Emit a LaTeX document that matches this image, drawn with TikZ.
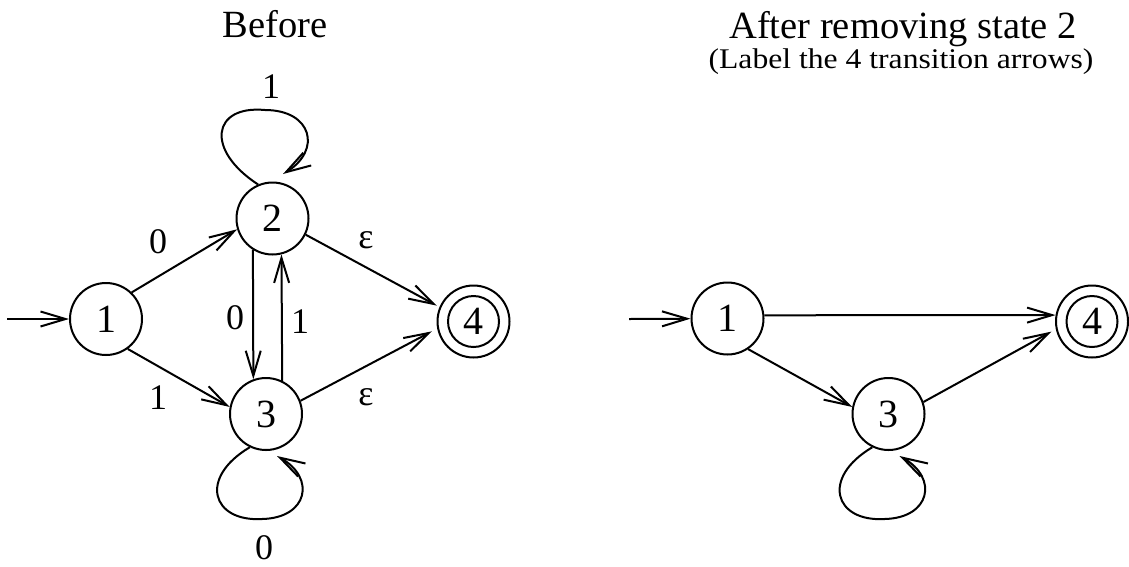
\documentclass[tikz,border=0pt]{standalone}
\usepackage{fontspec}
\usepackage{graphicx}
\setmainfont{Liberation Serif}
\usetikzlibrary{arrows.meta}
\begin{document}
\begin{tikzpicture}[x=1pt,y=-1pt,
  state/.style={circle,draw,line width=2pt,minimum size=72pt,inner sep=0pt,font=\fontsize{40}{40}\selectfont},
  edge/.style={line width=2pt,-{Straight Barb[length=25pt,width=15pt]}},
  lab/.style={font=\fontsize{36}{36}\selectfont,inner sep=0pt},
  titletext/.style={font=\fontsize{38.5}{38.5}\selectfont,anchor=base,inner sep=0pt},
  subtitletext/.style={font=\fontsize{28.5}{28.5}\selectfont,anchor=base,inner sep=0pt}]
\useasboundingbox (0,0) rectangle (1129,566);

% ---------- Before ----------
\node[titletext] (t1) at (275,37) {Before};
\node[state] (a1) at (106,319) {1};
\node[state] (a2) at (272.5,218.5) {2};
\node[state] (a3) at (266,414) {3};
\node[state] (a4) at (473.5,321.5) {4};
\draw[line width=2pt] (a4.center) circle (25.5pt);
\coordinate (a0) at (7,319);

\draw[edge] (a0) -- (a1);
\draw[edge] (a1.46) -- (a2.197);
\draw[edge] (a1.-54) -- (a3.169);
\draw[edge,shorten >=3pt] (a2.-26) -- (a4.157);
\draw[edge,shorten >=6pt] (a3.21) -- (a4.191);
\draw[edge] (a2.238) -- (a3.110.6);
\draw[edge] (a3.64.4) -- (a2.284.9);

\begin{scope}[shift={(a2.center)}]
\draw[edge] (a2.113) .. controls (-67.5,-68.5) and (-60.5,-113.5) .. (-7.5,-108.5)
  .. controls (39.5,-108.5) and (49.5,-68.5) .. (10.5,-44.5);
\end{scope}
\begin{scope}[shift={(a3.center)}]
\draw[edge] (a3.244) .. controls (-68,64) and (-54,108) .. (-4,105)
  .. controls (42,104) and (50,64) .. (11,42);
\end{scope}

\node[lab] (l12) at (158,242) {0};
\node[lab] (l13) at (158,398) {1};
\node[lab] (l24) at (366,240) {ε};
\node[lab] (l34) at (366,397) {ε};
\node[lab] (l23) at (235,318) {0};
\node[lab] (l32) at (300,322) {1};
\node[lab] (l22) at (271,87) {1};
\node[lab] (l33) at (264,548) {0};

% ---------- After ----------
\node[titletext] (t2) at (903,38) {After removing state 2};
\node[subtitletext] (t3) at (901,68) {\scalebox{1.11}[1]{(Label the 4 transition arrows)}};
\node[state] (b1) at (727.5,318.5) {1};
\node[state] (b3) at (888.5,414) {3};
\node[state] (b4) at (1092,321.5) {4};
\draw[line width=2pt] (b4.center) circle (25.5pt);
\coordinate (b0) at (629,319);

\draw[edge] (b0) -- (b1);
\draw[edge] (b1.5) -- (b4.170);
\draw[edge] (b1.-56) -- (b3.169);
\draw[edge,shorten >=5pt] (b3.19) -- (b4.192.5);
\begin{scope}[shift={(b3.center)}]
\draw[edge] (b3.244) .. controls (-68,64) and (-54,108) .. (-4,105)
  .. controls (42,104) and (50,64) .. (11,42);
\end{scope}
\end{tikzpicture}
\end{document}
